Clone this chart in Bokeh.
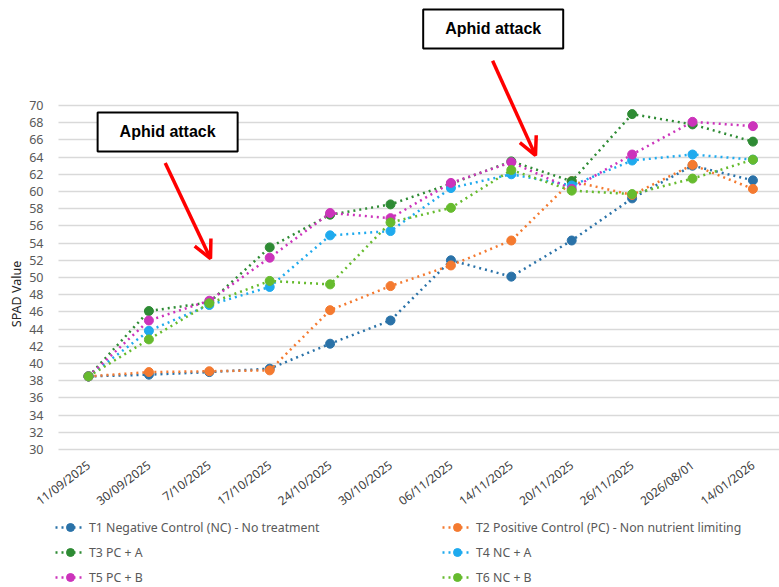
from bokeh.plotting import figure
from bokeh.models import (Range1d, FixedTicker, Legend, LegendItem, Label, Arrow, OpenHead)
from bokeh.embed import file_html
from bokeh.resources import INLINE

dates = ["11/09/2025", "30/09/2025", "7/10/2025", "17/10/2025", "24/10/2025",
         "30/10/2025", "06/11/2025", "14/11/2025", "20/11/2025", "26/11/2025",
         "2026/08/01", "14/01/2026"]

t1 = [38.5, 38.7, 39.0, 39.4, 42.3, 45.0, 52.0, 50.1, 54.3, 59.2, 63.0, 61.3]
t2 = [38.5, 39.0, 39.1, 39.2, 46.2, 49.0, 51.4, 54.3, 61.2, 59.6, 63.1, 60.3]
t3 = [38.5, 46.1, 47.1, 53.5, 57.3, 58.5, 60.9, 63.5, 61.2, 69.0, 67.8, 65.8]
t4 = [38.5, 43.8, 46.8, 48.9, 54.9, 55.4, 60.4, 62.0, 60.7, 63.6, 64.3, 63.7]
t5 = [38.5, 45.0, 47.3, 52.3, 57.5, 56.9, 61.0, 63.4, 60.3, 64.3, 68.1, 67.6]
t6 = [38.5, 42.8, 47.0, 49.6, 49.2, 56.4, 58.1, 62.5, 60.1, 59.7, 61.5, 63.7]

series_names = ["T1 Negative Control (NC) - No treatment",
                "T2 Positive Control (PC) - Non nutrient limiting",
                "T3 PC + A", "T4 NC + A", "T5 PC + B", "T6 NC + B"]
series_values = [t1, t2, t3, t4, t5, t6]
colors = ["#2A72A8", "#F47A30", "#2E8B34", "#1FAAEE", "#CC33BB", "#66BB2E"]

y_ticks = list(range(30, 71, 2))
annotation_text = "Aphid attack"

xs = list(range(len(dates)))

X_LEFT_EDGE = -0.497   # where the plot area (gridlines) begins
p = figure(width=779, height=587, output_backend="svg", toolbar_location=None,
           x_range=Range1d(-1.457, 11.44), y_range=Range1d(13.95, 82.21),
           min_border_left=0, min_border_top=0, min_border_right=0,
           min_border_bottom=0)
p.outline_line_color = None
p.background_fill_color = "white"
p.border_fill_color = "white"

p.xgrid.grid_line_color = None
p.ygrid.grid_line_color = "#D9D9D9"
p.ygrid.grid_line_width = 1.5
p.ygrid.cross_bounds = (X_LEFT_EDGE, 11.44)

p.yaxis.ticker = FixedTicker(ticks=y_ticks)
p.yaxis.fixed_location = X_LEFT_EDGE
p.xaxis.ticker = FixedTicker(ticks=xs)
p.xaxis.fixed_location = 30
p.xaxis.major_label_overrides = {i: d for i, d in enumerate(dates)}
p.xaxis.major_label_orientation = 0.65
for ax in (p.xaxis, p.yaxis):
    ax.axis_line_color = None
    ax.major_tick_line_color = None
    ax.minor_tick_line_color = None
    ax.major_label_text_font = "Noto Sans"
    ax.major_label_text_color = "#595959"
    ax.major_label_text_font_size = "12px"
p.yaxis.major_label_text_font_size = "12.5px"
p.xaxis.major_label_text_color = "#404040"
p.xaxis.major_label_standoff = 8
p.yaxis.major_label_standoff = 9
p.yaxis.axis_label = "SPAD Value"
p.yaxis.axis_label_text_font = "Noto Sans"
p.yaxis.axis_label_text_font_style = "normal"
p.yaxis.axis_label_text_font_size = "12.5px"
p.yaxis.axis_label_text_color = "#262626"
p.yaxis.axis_label_standoff = 1

items = []
for name, vals, c in zip(series_names, series_values, colors):
    ln = p.line(xs, vals, line_color=c, line_width=2.5, line_dash="2 4")
    sc = p.scatter(xs, vals, size=9, fill_color=c, line_color=c)
    items.append(LegendItem(label=name, renderers=[ln, sc]))

legend_style = dict(orientation="vertical",
                    label_text_font="Noto Sans", label_text_font_size="12.3px",
                    label_text_color="#595959", glyph_width=30, glyph_height=20,
                    label_height=20, spacing=5, label_standoff=4,
                    padding=0, margin=0, border_line_color=None,
                    background_fill_alpha=0)
legend_left = Legend(items=items[0::2], location=(55, 0), **legend_style)
legend_right = Legend(items=items[1::2], location=(442, 0), **legend_style)
p.add_layout(legend_left, "center")
p.add_layout(legend_right, "center")

for cx, cy in [(1.31, 66.92), (6.70, 78.9)]:
    p.add_layout(Label(x=cx, y=cy, text=annotation_text, text_align="center",
                       text_baseline="middle", text_font="Liberation Sans",
                       text_font_style="bold", text_font_size="16px",
                       text_color="black", border_line_color="black",
                       border_line_width=2, background_fill_color="white",
                       padding=dict(left=22, right=22, top=11, bottom=11)))

for x0, y0, x1, y1 in [(1.27, 63.3, 2.02, 52.2), (6.69, 75.2, 7.40, 64.2)]:
    p.add_layout(Arrow(x_start=x0, y_start=y0, x_end=x1, y_end=y1,
                       line_color="#FF0000", line_width=3.5,
                       end=OpenHead(size=18, line_color="#FF0000", line_width=3.5)))

open("out.html", "w").write(file_html(p, INLINE))
